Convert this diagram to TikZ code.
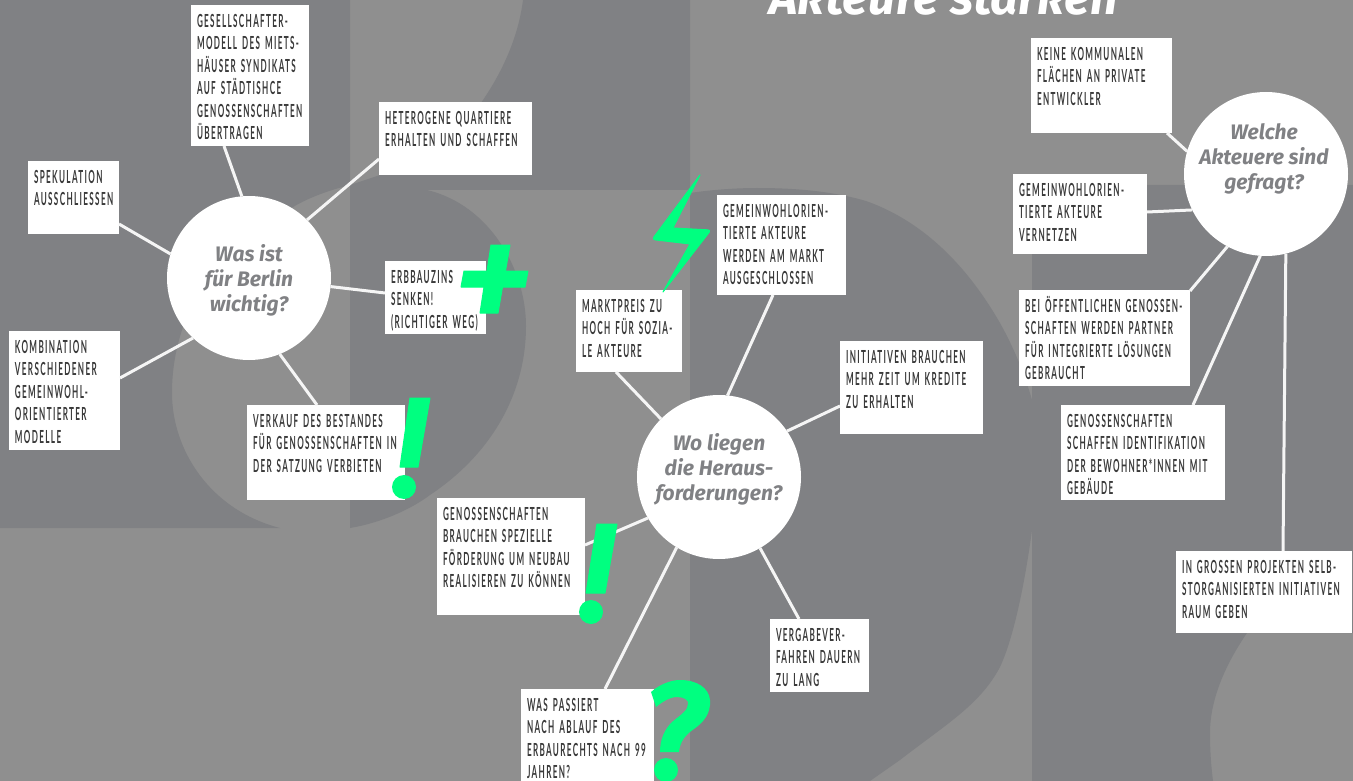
\documentclass[tikz,border=0pt]{standalone}
\usepackage{fontspec}
\usetikzlibrary{calc}
\newfontfamily\boxfont[FakeStretch=0.45,LetterSpace=7.5,WordSpace=1.5]{Lato Bold}
\newfontfamily\headfont[BoldItalicFont={Fira Sans Bold Italic}]{Fira Sans}
\definecolor{lightbg}{HTML}{8F8F8F}
\definecolor{darkbg}{HTML}{808184}
\definecolor{neon}{HTML}{00FF80}
\definecolor{boxtext}{HTML}{3A3A3A}
\tikzset{
  card/.style={fill=white,draw=none,inner sep=0pt,outer sep=0pt,anchor=north west,text=boxtext},
  hub/.style={circle,fill=white,draw=none,minimum size=164pt,inner sep=0pt,outer sep=0pt},
  hubtext/.style={text=darkbg,align=center,font=\headfont\bfseries\itshape\fontsize{21}{25}\selectfont,inner sep=0pt},
  link/.style={draw=white!96!black,line width=3pt},
  accent/.style={fill=neon,draw=neon,line width=1pt,line join=round}
}
\newcommand{\bx}[6]{\node[card] (#1) at (#2,#3) {\parbox[c][#5pt][t]{#4pt}{\fontsize{18}{22.4}\boxfont\selectfont\hbox to #4pt{\rule{0pt}{22.5pt}\hfil}\vskip-22.4pt #6}};}
\newcommand{\bl}[1]{\hbox to 0pt{\kern6pt #1\hss}}
\begin{document}
\begin{tikzpicture}[x=1pt,y=-1pt]
\useasboundingbox (0,0) rectangle (1353,781);
% background
\fill[lightbg] (0,0) rectangle (1353,781);
\fill[darkbg] (0,0) -- (350,0) -- (350,185) .. controls (330,190) and (310,197) .. (293,207)
  .. controls (210,250) and (172,320) .. (172,393) .. controls (172,450) and (210,510) .. (280,528) -- (0,528) -- cycle;
\fill[darkbg] (523,0) .. controls (518,40) and (500,75) .. (483,100) .. controls (460,135) and (420,165) .. (380,175)
  -- (350,185) -- (350,528) .. controls (380,523) and (410,510) .. (430,495)
  .. controls (490,455) and (526,395) .. (526,326) .. controls (526,270) and (490,205) .. (427,190)
  -- (690,190) -- (690,0) -- cycle;
\fill[darkbg] (690,193) .. controls (710,190) and (735,188) .. (757,188) .. controls (800,188) and (835,192) .. (866,201)
  .. controls (920,220) and (965,262) .. (1000,323) .. controls (1014,348) and (1025,375) .. (1032,400) -- (1032,530)
  .. controls (1026,575) and (1015,635) .. (1000,667) .. controls (980,705) and (945,725) .. (900,760)
  .. controls (890,767) and (880,774) .. (870,781) -- (690,781) -- cycle;
\fill[darkbg] (1032,185) -- (1353,185) -- (1353,633) -- (1247,633) .. controls (1225,665) and (1210,700) .. (1210,733)
  .. controls (1210,750) and (1211,765) .. (1213,781) -- (1032,781) -- cycle;
% title
\node[font=\headfont\bfseries\itshape\fontsize{48.5}{50}\selectfont,text=white,anchor=base,inner sep=0pt] (title) at (944,15) {Akteure stärken};
% hubs
\node[hub] (c1) at (249,278) {};
\node[hub] (c2) at (719,477) {};
\node[hub] (c3) at (1266,174) {};
\node[hubtext] (t1) at (249,280.5) {Was ist\\für Berlin\\wichtig?};
\node[hubtext] (t2) at (719,469.5) {Wo liegen\\die Heraus-\\forderungen?};
\node[hubtext] (t3) at (1264,159) {Welche\\Akteuere sind\\gefragt?};
% cards left
\bx{a1}{191}{5}{118}{141}{\bl{GESELLSCHAFTER-}\bl{MODELL DES MIETS-}\bl{HÄUSER SYNDIKATS}\bl{AUF STÄDTISHCE}\bl{GENOSSENSCHAFTEN}\bl{ÜBERTRAGEN}}
\bx{a2}{379}{102}{153}{73}{\bl{HETEROGENE QUARTIERE}\bl{ERHALTEN UND SCHAFFEN}}
\bx{a3}{28}{161}{91}{73}{\bl{SPEKULATION}\bl{AUSSCHLIESSEN}}
\bx{a4}{9}{331}{111}{119}{\bl{KOMBINATION}\bl{VERSCHIEDENER}\bl{GEMEINWOHL-}\bl{ORIENTIERTER}\bl{MODELLE}}
\bx{a5}{385}{261}{101}{73}{\bl{ERBBAUZINS}\bl{SENKEN!}\bl{(RICHTIGER WEG)}}
\bx{a6}{247}{405}{158}{95}{\bl{VERKAUF DES BESTANDES}\bl{FÜR GENOSSENSCHAFTEN IN}\bl{DER SATZUNG VERBIETEN}}
% cards middle
\bx{b1}{576}{290}{106}{82}{\bl{MARKTPREIS ZU}\bl{HOCH FÜR SOZIA-}\bl{LE AKTEURE}}
\bx{b2}{717}{195}{129}{100}{\bl{GEMEINWOHLORIEN-}\bl{TIERTE AKTEURE}\bl{WERDEN AM MARKT}\bl{AUSGESCHLOSSEN}}
\bx{b3}{840}{341}{143}{93}{\bl{INITIATIVEN BRAUCHEN}\bl{MEHR ZEIT UM KREDITE}\bl{ZU ERHALTEN}}
\bx{b4}{437}{498}{148}{117}{\bl{GENOSSENSCHAFTEN}\bl{BRAUCHEN SPEZIELLE}\bl{FÖRDERUNG UM NEUBAU}\bl{REALISIEREN ZU KÖNNEN}}
\bx{b5}{770}{619}{99}{73}{\bl{VERGABEVER-}\bl{FAHREN DAUERN}\bl{ZU LANG}}
\bx{b6}{521}{689}{133}{92}{\bl{WAS PASSIERT}\bl{NACH ABLAUF DES}\bl{ERBAURECHTS NACH 99}\bl{JAHREN?}}
% cards right
\bx{d1}{1031}{38}{141}{95}{\bl{KEINE KOMMUNALEN}\bl{FLÄCHEN AN PRIVATE}\bl{ENTWICKLER}}
\bx{d2}{1013}{174}{134}{80}{\bl{GEMEINWOHLORIEN-}\bl{TIERTE AKTEURE}\bl{VERNETZEN}}
\bx{d3}{1019}{290}{171}{96}{\bl{BEI ÖFFENTLICHEN GENOSSEN-}\bl{SCHAFTEN WERDEN PARTNER}\bl{FÜR INTEGRIERTE LÖSUNGEN}\bl{GEBRAUCHT}}
\bx{d4}{1061}{405}{164}{95}{\bl{GENOSSENSCHAFTEN}\bl{SCHAFFEN IDENTIFIKATION}\bl{DER BEWOHNER*INNEN MIT}\bl{GEBÄUDE}}
\bx{d5}{1176}{551}{176}{82}{\bl{IN GROSSEN PROJEKTEN SELB-}\bl{STORGANISIERTEN INITIATIVEN}\bl{RAUM GEBEN}}
% connectors
\draw[link] ([xshift=33pt]a1.south west) -- (c1.95);
\draw[link] ([yshift=16pt]a2.south west) -- (c1.45);
\draw[link] ([yshift=10pt]a3.south east) -- (c1.163);
\draw[link] ([yshift=72pt]a4.south east) -- (c1.227);
\draw[link] ([yshift=41pt]a5.south west) -- (c1.-6);
\draw[link] ([xshift=70pt]a6.north west) -- (c1.-68);
\draw[link] ([xshift=40pt]b1.south west) -- (c2.135);
\draw[link] ([xshift=56pt]b2.south west) -- (c2.84);
\draw[link] ([yshift=28pt]b3.south west) -- (c2.34);
\draw[link] ([xshift=29pt]b5.north west) -- (c2.-60);
\draw[link] ([xshift=84pt]b6.north west) -- (c2.239);
\draw[link] ([yshift=70pt]b4.south east) -- (c2.210);
\draw[link] ([xshift=-5pt]d1.south east) -- (c3.164);
\draw[link] ([yshift=42pt]d2.south east) -- (c3.206);
\draw[link] ([yshift=95pt]d3.south east) -- (c3.242);
\draw[link] ([xshift=132pt]d4.north west) -- (c3.266);
\draw[link] ([xshift=107pt]d5.north west) -- (c3.-76);
% green marks
\fill[accent] (491,245) -- (510,245) -- (505.5,271) -- (528,271) -- (525,287) -- (502.5,287) -- (498,313) -- (480,313) -- (484,287) -- (461,287) -- (464,271) -- (487,271) -- cycle;
\fill[accent] (410,398) -- (430,398) -- (418,467) -- (400,467) -- cycle;
\fill[neon] (404,487) circle (12);
\fill[accent] (597,524) -- (617,524) -- (605,593) -- (586,593) -- cycle;
\fill[neon] (591,612) circle (12);
\fill[accent] (700,175) [rounded corners=3pt] -- (652,239.5) [sharp corners] -- (690,244) -- (663,292) [rounded corners=3pt] -- (711,230) [sharp corners] -- (673,228) -- cycle;
\fill[neon] (651,692) -- (656,707) .. controls (662,702) and (670,697) .. (677,697)
  .. controls (684,697) and (689,700) .. (688,704) .. controls (688,710) and (682,714) .. (672,722)
  .. controls (664,730) and (660,740) .. (660,752) -- (679,752) .. controls (680,742) and (685,735) .. (694,729)
  .. controls (704,722) and (711,713) .. (710,700) .. controls (709,688) and (697,680) .. (680,680)
  .. controls (670,680) and (659,685) .. (651,692) -- cycle;
\fill[neon] (666,770) circle (12);
\end{tikzpicture}
\end{document}
